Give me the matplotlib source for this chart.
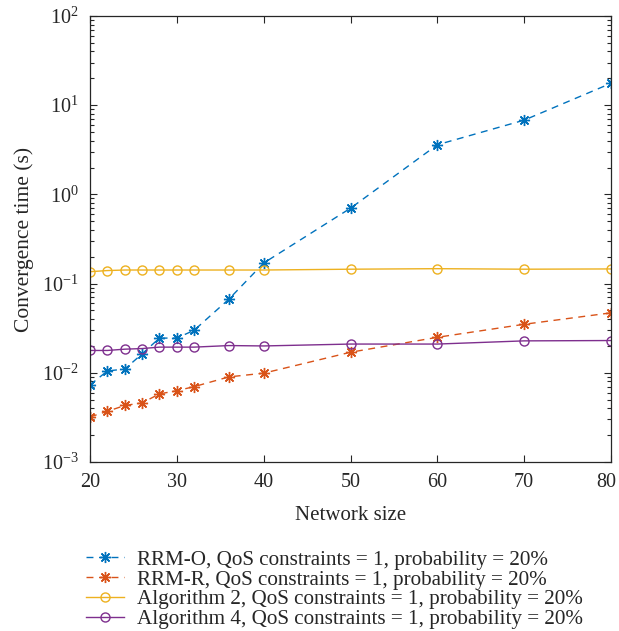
import matplotlib
matplotlib.use("Agg")
import matplotlib.pyplot as plt
import matplotlib.transforms as mtransforms
from matplotlib.ticker import LogLocator, NullFormatter, NullLocator

plt.rcParams['font.family'] = ['Liberation Serif', 'DejaVu Serif']
plt.rcParams['mathtext.fontset'] = 'custom'
plt.rcParams['mathtext.rm'] = 'Liberation Serif'
plt.rcParams['mathtext.it'] = 'Liberation Serif:italic'

x_small = [20, 22, 24, 26, 28, 30, 32, 36, 40, 50, 60, 70, 80]
rrm_o = [0.0073, 0.0105, 0.011, 0.0163, 0.0245, 0.0245, 0.030, 0.067, 0.17, 0.70, 3.6, 6.8, 17.6]
rrm_r = [0.0032, 0.0037, 0.0043, 0.0046, 0.0058, 0.0063, 0.0070, 0.0090, 0.0099, 0.0170, 0.025, 0.035, 0.047]
alg2 = [0.136, 0.140, 0.142, 0.142, 0.142, 0.142, 0.142, 0.142, 0.142, 0.145, 0.147, 0.145, 0.146]
alg4 = [0.0178, 0.0178, 0.0184, 0.0187, 0.0194, 0.0194, 0.0194, 0.0202, 0.0200, 0.021, 0.021, 0.0228, 0.0230]

labels = ["RRM-O, QoS constraints = 1, probability = 20%",
          "RRM-R, QoS constraints = 1, probability = 20%",
          "Algorithm 2, QoS constraints = 1, probability = 20%",
          "Algorithm 4, QoS constraints = 1, probability = 20%"]
colors = ["#0072BD", "#D95319", "#EDB120", "#7E2F8E"]
textc = '#262626'

fig = plt.figure(figsize=(6.19, 6.31), dpi=100)
ax = fig.add_axes([90/619, 1-462/631, (611-90)/619, (462-16)/631])

ast = (8, 2, 0)
ax.plot(x_small, rrm_o, linestyle=(0, (5, 4)), color=colors[0], lw=1.0, marker=ast, ms=8, mew=1.0, label=labels[0])
ax.plot(x_small, rrm_r, linestyle=(0, (5, 4)), color=colors[1], lw=1.0, marker=ast, ms=8, mew=1.0, label=labels[1])
ax.plot(x_small, alg2, linestyle='-', color=colors[2], lw=1.0, marker='o', ms=6.5, mfc='none', mew=1.0, label=labels[2])
ax.plot(x_small, alg4, linestyle='-', color=colors[3], lw=1.0, marker='o', ms=6.5, mfc='none', mew=1.0, label=labels[3])

ax.set_yscale('log')
ax.set_ylim(1e-3, 1e2)
ax.set_xlim(20, 80)
ax.set_xticks([20, 30, 40, 50, 60, 70, 80])
ax.xaxis.set_minor_locator(NullLocator())
ax.yaxis.set_major_locator(LogLocator(base=10, numticks=10))
ax.yaxis.set_minor_locator(LogLocator(base=10, subs=range(2, 10), numticks=20))
ax.yaxis.set_minor_formatter(NullFormatter())
ax.tick_params(which='both', direction='in', top=True, right=True, labelsize=14.5, colors=textc)
ax.tick_params(which='major', length=5, width=0.8)
ax.tick_params(which='minor', length=3, width=0.8)
ax.tick_params(axis='x', pad=8)
ax.tick_params(axis='y', pad=8)
for s in ax.spines.values():
    s.set_color(textc)
    s.set_linewidth(0.9)

ax.set_xlabel("Network size", fontsize=15, color=textc, labelpad=10)
ax.set_ylabel("Convergence time (s)", fontsize=15.5, color=textc, labelpad=6)

fig.canvas.draw()
lbls = ax.get_xticklabels()
offset = mtransforms.ScaledTranslation(-5/100, 0, fig.dpi_scale_trans)
lbls[-1].set_transform(lbls[-1].get_transform() + offset)

leg = fig.legend(loc='upper left', bbox_to_anchor=(86/619, 1-550/631), frameon=False,
                 fontsize=15.2, handlelength=1.8, labelspacing=0.0, borderaxespad=0,
                 handletextpad=0.6, borderpad=0)
for t in leg.get_texts():
    t.set_color(textc)

fig.savefig("out.png", dpi=100)
